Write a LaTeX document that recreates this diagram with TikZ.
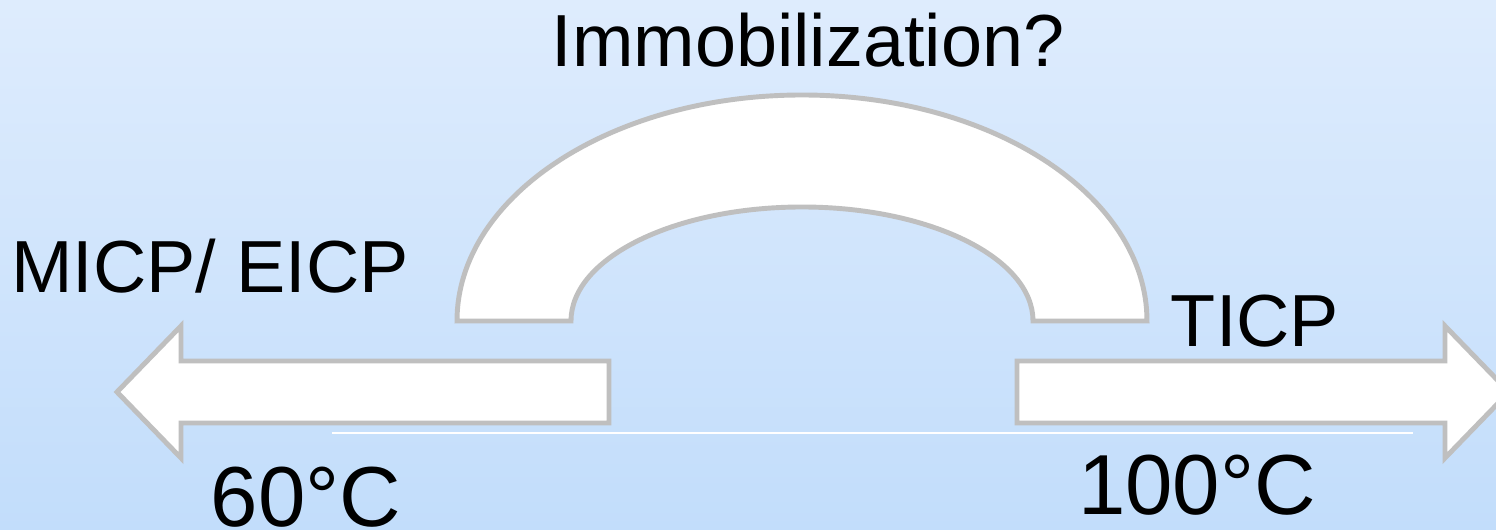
\documentclass[tikz,border=0pt]{standalone}
\usepackage{fontspec}
\setmainfont{Liberation Sans}
\begin{document}
\begin{tikzpicture}
\tikzset{
  shapefill/.style={fill=white, draw=black!25, line width=2.8pt, line join=miter},
  lbl/.style={inner sep=0pt, anchor=base, font=\fontsize{42}{50}\selectfont},
  temp/.style={inner sep=0pt, anchor=base, font=\fontsize{48.5}{58}\selectfont}
}
\useasboundingbox (0,0) rectangle (29.92,10.6);
\clip (0,0) rectangle (29.92,10.6);
\shade[top color={rgb,255:red,222;green,236;blue,253}, bottom color={rgb,255:red,194;green,221;blue,251}] (0,0) rectangle (29.92,10.6);
% arch
\draw[shapefill] (9.14,4.18) arc[start angle=180,end angle=0,x radius=6.9cm,y radius=4.52cm]
  -- (20.66,4.18) arc[start angle=0,end angle=180,x radius=4.62cm,y radius=2.28cm] -- cycle;
% left arrow
\draw[shapefill] (2.34,2.76) -- (3.62,4.08) -- (3.62,3.38) -- (12.18,3.38) -- (12.18,2.14) -- (3.62,2.14) -- (3.62,1.44) -- cycle;
% right arrow
\draw[shapefill] (20.34,3.38) -- (28.90,3.38) -- (28.90,4.08) -- (30.18,2.76) -- (28.90,1.44) -- (28.90,2.14) -- (20.34,2.14) -- cycle;
% thin line
\coordinate (la) at (6.64,1.94);
\coordinate (lb) at (28.26,1.94);
\draw[white, line width=1pt] (la) -- (lb);
% labels
\node[lbl] (imm) at (16.16,9.26) {Immobilization?};
\node[lbl] (micp) at (4.2,4.74) {MICP/ EICP};
\node[lbl] (ticp) at (25.1,3.66) {TICP};
\node[temp] (t60) at (6.12,0.06) {60°C};
\node[temp] (t100) at (23.94,0.30) {100°C};
\end{tikzpicture}
\end{document}
